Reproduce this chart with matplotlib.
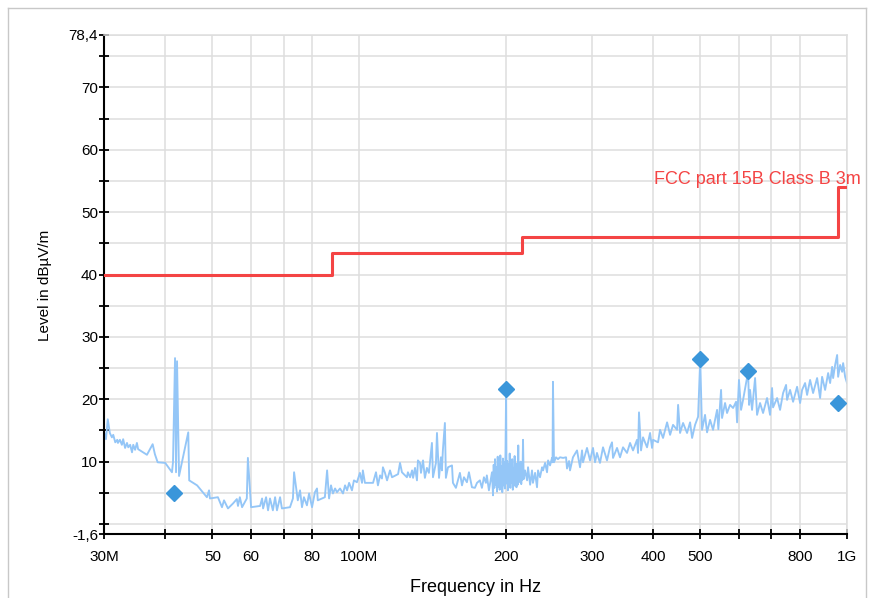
import matplotlib
matplotlib.use("Agg")
import matplotlib.pyplot as plt
from matplotlib.lines import Line2D
from matplotlib.ticker import FixedLocator, NullFormatter

plt.rcParams['font.family'] = ['Liberation Sans', 'DejaVu Sans']

# ---------------- DATA ----------------
# measured spectrum, frequency in MHz / level in dBuV/m
trace_freq = [
    30.0, 30.24, 30.5, 30.8, 31.1, 31.3, 31.6, 31.9, 32.0, 32.3, 32.6, 32.8,
    33.1, 33.4, 33.6, 33.9, 34.2, 34.4, 34.7, 35.0, 35.2, 36.7, 37.7, 38.1,
    38.6, 40.0, 41.3, 41.5, 41.9, 42.1, 42.3, 42.7, 44.6, 44.8, 46.5, 48.7,
    49.2, 49.4, 51.3, 52.3, 52.8, 53.8, 55.1, 56.1, 56.4, 56.9, 57.5, 58.8,
    59.1, 60.0, 62.6,
    63.2, 63.5, 64.4, 65.0, 65.6, 66.5, 67.2, 67.8, 68.8, 69.4, 72.1, 73.1,
    73.5, 74.5, 74.8, 75.6, 76.3, 77.0, 78.1, 78.9, 80.0, 81.1, 81.9, 82.2,
    83.9, 85.0, 85.9, 86.7, 87.5, 88.3, 89.2, 90.0, 91.3, 92.6, 93.5, 94.4,
    95.3, 96.6, 97.5, 98.9, 100.3, 101.3, 101.7, 102.7, 106.7, 108.2, 109.2,
    110.3, 111.3, 111.8, 112.9, 114.0, 115.6, 116.7, 120.1, 121.2, 122.3,
    125.2, 125.8, 127.1, 128.3, 128.9, 130.1, 131.3, 131.9,
    133.2, 133.8, 135.1, 136.3, 137.6, 138.9, 140.9, 141.6, 143.6, 144.3,
    145.7, 147.0, 147.7, 148.4, 149.8, 150.5, 152.0, 154.9, 155.6, 157.8,
    159.3, 160.8, 162.4, 163.9, 166.2, 167.8, 170.2, 172.6, 174.3, 176.7,
    178.4, 180.1, 181.8, 182.6, 184.4, 187.1, 188.0,
    188.6, 189.2, 189.8, 190.4, 191.0, 191.6, 192.2, 192.8, 193.4, 194.0,
    194.6, 195.2, 195.8, 196.4, 197.0, 197.6, 198.2, 198.8, 199.4, 200.0,
    200.4, 201.0, 201.6, 202.2, 202.8, 203.4, 204.0, 204.6, 205.2, 205.8,
    206.4, 207.0, 207.6, 208.2, 208.8, 209.4, 210.0, 210.6, 211.2, 211.8,
    212.4, 213.0, 213.6, 214.2, 214.8, 215.4, 216.0, 216.6, 217.3,
    218.7, 220.8, 221.8, 224.0, 226.0, 227.0, 229.3, 231.4, 232.5, 234.7,
    237.0, 238.1, 240.4, 242.6, 243.8, 246.1, 248.4, 249.0, 249.5, 250.7,
    253.1, 255.5, 257.9, 261.7, 265.4, 266.6, 269.2,
    270.4, 274.2, 279.5, 283.5, 286.2, 287.5, 293.0, 297.2, 301.4, 304.3,
    307.1, 311.5, 316.0, 322.0, 326.6, 329.7, 331.3, 337.6, 342.4, 347.3,
    353.9, 359.0, 364.1, 371.0, 372.8, 374.5, 378.1, 381.7, 389.0, 394.6,
    398.3, 400.2, 409.7, 413.6, 419.5, 427.6, 433.7, 439.8, 448.2, 450.4,
    454.6, 461.1, 469.9, 476.6, 481.2, 488.0, 495.0, 500.0, 504.3, 511.5,
    516.4, 523.8, 531.2, 541.4,
    544.7, 551.7, 554.3, 562.2, 567.5, 575.6, 583.9, 592.2, 595.0, 600.4,
    606.3, 612.1, 623.8, 626.7, 629.7, 632.6, 638.6, 647.8, 653.9, 663.2,
    672.7, 685.5, 695.3, 701.9, 705.2, 718.7, 728.9, 739.4, 749.9, 753.4,
    764.2, 775.1, 789.9, 801.2, 808.8, 820.3, 828.1, 839.9, 851.9, 868.2,
    880.6, 888.9, 901.7, 914.6, 923.2, 932.0, 936.4, 945.3, 954.3, 958.8,
    967.9, 977.1, 981.7, 991.0, 1000.0,
]
trace_level = [
    14.6, 13.6, 16.8, 14.6, 13.9, 14.3, 13.1, 13.5, 13.0, 13.5, 12.7, 13.6,
    12.2, 13.0, 12.3, 12.7, 11.5, 12.7, 11.9, 13.0, 12.0, 11.1, 12.8, 11.2,
    9.9, 9.8, 8.3, 9.9, 26.6, 8.3, 26.1, 7.7, 14.7, 7.0, 6.2, 4.3,
    5.4, 4.1, 4.3, 2.7, 3.8, 2.5, 3.3, 4.0, 2.9, 4.3, 2.7, 4.1,
    10.6, 2.7, 2.9,
    4.1, 2.5, 4.3, 2.2, 4.1, 2.2, 4.3, 2.2, 4.3, 2.5, 2.7, 4.1,
    8.3, 4.9, 3.8, 5.4, 2.7, 4.3, 3.0, 4.9, 2.7, 5.1, 5.7, 3.8,
    4.1, 4.3, 8.6, 4.1, 6.2, 4.9, 5.7, 5.1, 5.7, 4.9, 6.2, 5.4,
    6.6, 5.4, 7.0, 6.7, 8.2, 6.6, 8.6, 6.6, 6.6, 8.3, 6.2,
    7.8, 7.3, 9.1, 8.2, 7.0, 8.6, 7.5, 8.0, 9.8, 8.3,
    7.5, 8.3, 7.5, 8.6, 7.4, 9.0, 7.0, 10.2,
    9.8, 8.2, 10.2, 7.4, 9.0, 8.2, 13.0, 7.5, 9.8, 14.6,
    7.4, 10.7, 8.6, 11.9, 16.2, 7.4, 9.1, 9.4, 6.6, 5.8,
    7.0, 8.2, 6.2, 7.5, 6.7, 8.3, 5.9, 5.8, 6.6, 7.0,
    5.8, 7.5, 6.6, 7.8, 5.4, 8.3, 4.6,
    9.5, 5.8, 10.4, 6.3, 9.1, 5.2, 10.8, 6.0, 9.7, 5.5,
    11.0, 6.4, 9.3, 5.1, 10.5, 6.2, 9.9, 5.7, 11.2, 21.6,
    6.5, 10.1, 5.4, 9.6, 6.0, 11.3, 5.8, 9.2, 6.6, 10.4,
    5.5, 9.0, 6.8, 10.9, 6.1, 8.8, 5.9, 9.7, 6.3, 12.6,
    6.7, 9.4, 7.0, 10.0, 6.4, 9.1, 7.1, 13.5, 7.2,
    8.6, 7.0, 9.1, 6.3, 8.6, 6.6, 8.2, 5.9, 8.6, 7.5,
    9.1, 8.6, 9.8, 8.3, 10.2, 9.4, 10.6, 9.9, 22.8, 9.9,
    10.7, 10.4, 10.7, 10.6, 10.7, 8.9, 10.1,
    8.6, 10.7, 11.8, 9.1, 11.8, 9.9, 12.2, 10.2, 12.2, 9.9,
    11.4, 9.8, 12.3, 10.2, 12.3, 13.1, 10.6, 12.2, 10.7, 12.3,
    11.4, 13.0, 11.8, 13.5, 11.4, 17.9, 11.8, 13.9, 12.3, 14.6,
    12.2, 13.5, 13.1, 15.1, 13.8, 16.3, 14.3, 15.9, 15.1, 19.1,
    14.6, 16.2, 14.6, 16.3, 13.8, 15.9, 17.2, 26.4, 15.1, 17.5,
    14.7, 16.7, 15.1, 18.3,
    15.2, 21.5, 17.0, 19.4, 17.8, 19.1, 18.6, 19.6, 16.3, 23.1,
    18.3, 19.9, 23.5, 24.5, 19.1, 21.5, 18.3, 23.4, 17.5, 19.4,
    17.8, 20.2, 17.5, 21.8, 18.7, 20.2, 18.3, 21.0, 22.3, 19.9,
    21.5, 19.6, 22.0, 19.4, 21.5, 22.6, 20.7, 23.1, 21.0, 23.4,
    20.2, 23.6, 21.5, 24.2, 22.6, 25.2, 23.4, 25.5, 27.1, 23.6,
    25.5, 24.4, 25.8, 23.6, 22.6,
]

# final (quasi-peak) results
marker_freq = [41.7, 200.0, 500.0, 626.7, 958.8]
marker_level = [4.9, 21.6, 26.4, 24.5, 19.4]

# FCC part 15B class B, 3 m limit
limit_freq = [30, 88, 216, 960, 1000]
limit_level = [40.0, 43.5, 46.0, 54.0, 54.0]

x_ticks = [30, 40, 50, 60, 70, 80, 100, 200, 300, 400, 500, 600, 700, 800, 1000]
x_labels = ["30M", "", "50", "60", "", "80", "100M", "200", "300", "400", "500",
            "", "", "800", "1G"]
y_ticks = [-1.6, 10, 20, 30, 40, 50, 60, 70, 78.4]
y_labels = ["-1,6", "10", "20", "30", "40", "50", "60", "70", "78,4"]
y_minor = [0, 5, 15, 25, 35, 45, 55, 65, 75]

# ---------------- PLOT ----------------
fig = plt.figure(figsize=(8.71, 5.98), dpi=100)
ax = fig.add_axes([0.1197, 0.1070, 0.8528, 0.8345])

grid_color = "#dedede"
limit_color = "#f44444"

ax.plot(trace_freq, trace_level, color="#94c6f7", lw=1.35, zorder=2)
ax.step(limit_freq, limit_level, where="post", color=limit_color, lw=2.2, zorder=3)
ax.plot(marker_freq, marker_level, ls="none", marker="D", ms=8.5,
        color="#3a96da", zorder=4)

ax.set_xscale("log")
ax.set_xlim(30, 1000)
ax.set_ylim(-1.6, 78.4)

ax.xaxis.set_major_locator(FixedLocator(x_ticks))
ax.set_xticklabels(x_labels)
ax.xaxis.set_minor_locator(FixedLocator([]))
ax.xaxis.set_minor_formatter(NullFormatter())
ax.set_yticks(y_ticks)
ax.set_yticklabels(y_labels)
ax.yaxis.set_minor_locator(FixedLocator(y_minor))

ax.set_axisbelow(True)
ax.grid(True, which="both", color=grid_color, lw=1.1)

for side in ["left", "bottom"]:
    ax.spines[side].set_color("black")
    ax.spines[side].set_linewidth(1.5)
for side in ["top", "right"]:
    ax.spines[side].set_color(grid_color)
    ax.spines[side].set_linewidth(1.1)

ax.tick_params(axis="both", which="both", direction="inout", length=6.5,
               width=1.3, color="black", labelsize=11)
ax.tick_params(axis="y", which="both", pad=1.2)
ax.tick_params(axis="x", which="both", pad=8.5)

fig.text(0.5465, 1 - 587 / 598, "Frequency in Hz", ha="center", va="center",
         fontsize=13)
fig.text(45 / 871, 1 - 285 / 598, "Level in dBµV/m", ha="center", va="center",
         rotation=90, fontsize=11)
fig.text(861 / 871, 1 - 179 / 598, "FCC part 15B Class B 3m", ha="right",
         va="center", fontsize=13, color=limit_color)

# light frame round the whole chart
frame_color = "#c8c8c8"
x0, x1, y0 = 7.5 / 871, 865.5 / 871, 1 - 7.5 / 598
fig.add_artist(Line2D([x0, x0], [0, y0], color=frame_color, lw=1))
fig.add_artist(Line2D([x1, x1], [0, y0], color=frame_color, lw=1))
fig.add_artist(Line2D([x0, x1], [y0, y0], color=frame_color, lw=1))

fig.savefig("out.png", dpi=100)
